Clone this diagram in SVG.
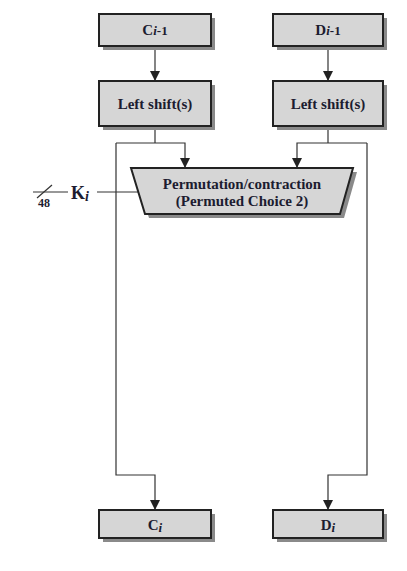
<svg xmlns="http://www.w3.org/2000/svg" width="407" height="571" viewBox="0 0 407 571">
<defs>
<marker id="arr" viewBox="0 0 10 10" refX="10" refY="5" markerWidth="10" markerHeight="10" markerUnits="userSpaceOnUse" orient="auto">
<path d="M0,0 L10,5 L0,10 z" fill="#222"/>
</marker>
<style>
.shadow{fill:#8a8a8a;stroke:none}
.box{fill:#d6d6d6;stroke:#222;stroke-width:2}
.t{font-family:"Liberation Serif","Times New Roman",serif;font-weight:bold;fill:#1c1c30;text-anchor:middle}
.s{text-anchor:start}
.c{fill:none;stroke:#333;stroke-width:1.2}
.ca{fill:none;stroke:#333;stroke-width:1.2;marker-end:url(#arr)}
</style>
</defs>
<rect width="407" height="571" fill="#fff"/>

<g id="connectors">
<line class="ca" x1="155" y1="46" x2="155" y2="81"/>
<line class="ca" x1="328" y1="46" x2="328" y2="81"/>
<line class="c" x1="155" y1="126" x2="155" y2="143"/>
<polyline class="ca" points="116,143 185,143 185,168"/>
<polyline class="ca" points="116,143 116,475 155,475 155,510"/>
<line class="c" x1="328" y1="126" x2="328" y2="143"/>
<polyline class="ca" points="367,143 297,143 297,168"/>
<polyline class="ca" points="367,143 367,475 328,475 328,510"/>
<line class="c" x1="33" y1="192" x2="68" y2="192"/>
<line class="c" x1="37" y1="198" x2="52" y2="185"/>
<line class="c" x1="97" y1="192" x2="138" y2="192"/>
</g>

<g id="ki">
<text class="t" x="44" y="207" font-size="12">48</text>
<text class="t s" x="71" y="199" font-size="18">K<tspan font-size="14" font-style="italic" dy="2">i</tspan></text>
</g>

<g id="c-prev">
<rect class="shadow" x="103" y="18" width="112" height="32"/>
<rect class="box" x="99" y="14" width="112" height="32"/>
<text class="t" x="155" y="35" font-size="15">C<tspan font-size="13" font-style="italic">i</tspan><tspan font-size="13">-1</tspan></text>
</g>
<g id="d-prev">
<rect class="shadow" x="277" y="18" width="110" height="32"/>
<rect class="box" x="273" y="14" width="110" height="32"/>
<text class="t" x="328" y="35" font-size="15">D<tspan font-size="13" font-style="italic">i</tspan><tspan font-size="13">-1</tspan></text>
</g>

<g id="shift-c">
<rect class="shadow" x="103" y="85" width="112" height="45"/>
<rect class="box" x="99" y="81" width="112" height="45"/>
<text class="t" x="155" y="109" font-size="15">Left shift(s)</text>
</g>
<g id="shift-d">
<rect class="shadow" x="277" y="85" width="110" height="45"/>
<rect class="box" x="273" y="81" width="110" height="45"/>
<text class="t" x="328" y="109" font-size="15">Left shift(s)</text>
</g>

<g id="pc2">
<polygon class="shadow" points="135,172 357,172 344,218 149,218"/>
<polygon class="box" points="131,168 353,168 340,214 145,214"/>
<text class="t" x="242" y="189" font-size="15">Permutation/contraction</text>
<text class="t" x="242" y="206" font-size="15">(Permuted Choice 2)</text>
</g>

<g id="c-next">
<rect class="shadow" x="103" y="514" width="112" height="28"/>
<rect class="box" x="99" y="510" width="112" height="28"/>
<text class="t" x="155" y="530" font-size="15">C<tspan font-size="13" font-style="italic" dy="2">i</tspan></text>
</g>
<g id="d-next">
<rect class="shadow" x="277" y="514" width="110" height="28"/>
<rect class="box" x="273" y="510" width="110" height="28"/>
<text class="t" x="328" y="530" font-size="15">D<tspan font-size="13" font-style="italic" dy="2">i</tspan></text>
</g>
</svg>
